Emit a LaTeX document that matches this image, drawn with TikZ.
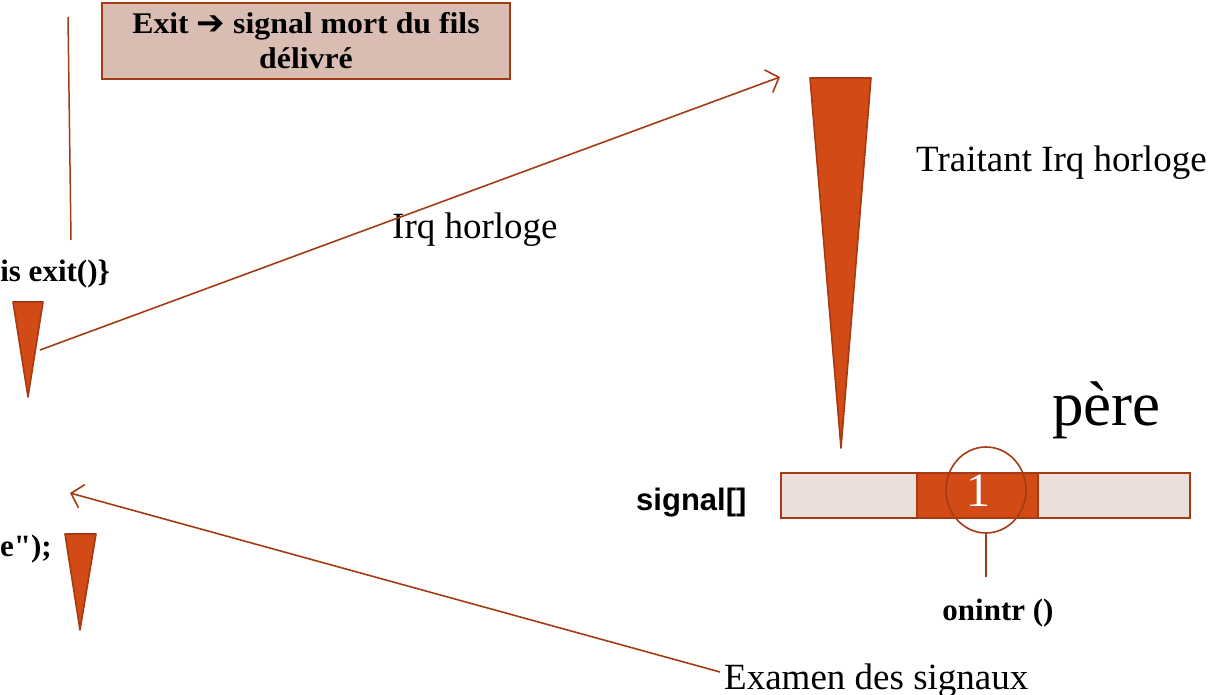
\documentclass[tikz,border=0pt]{standalone}
\usepackage{fontspec}
\setmainfont{Liberation Serif}
\newfontfamily\arialfont{Liberation Sans}
\newfontfamily\symfont{DejaVu Sans}
\newfontfamily\rawserif{Liberation Serif}[Ligatures=TeXOff]
\newfontfamily\boxfont{Liberation Serif}[FakeStretch=1.06]
\usetikzlibrary{arrows.meta,shapes.geometric}
\definecolor{rust}{HTML}{D24A16}
\definecolor{rustedge}{HTML}{A63A12}
\definecolor{boxfill}{HTML}{D9BDB3}
\definecolor{cellfill}{HTML}{EADFDB}
\tikzset{
  wedge/.style={fill=rust, draw=rustedge, line width=1.6pt, line join=round},
  link/.style={draw=rustedge, line width=1.6pt},
  arr/.style={link, -{Straight Barb[length=11pt,width=24pt,line width=1.6pt]}},
  txt/.style={inner sep=0pt, text=black},
  cell/.style={draw=rustedge, line width=1.8pt},
}
\begin{document}
\begin{tikzpicture}[x=1pt,y=-1pt]
\useasboundingbox (0,0) rectangle (1224,695);
\clip (0,0) rectangle (1224,695);

% message box at the top
\node[draw=rustedge, fill=boxfill, line width=2pt, minimum width=408pt, minimum height=76pt,
      anchor=north west, inner sep=0pt, align=center, font=\boxfont\fontsize{30}{35}\selectfont\bfseries]
  (msg) at (101,2) {Exit {\symfont\bfseries\fontsize{34}{34}\selectfont\raisebox{-1pt}{➔}} signal mort du fils\\délivré};

% vertical thread line on the left
\coordinate (vtop) at (68,17);
\coordinate (vbot) at (71,240);
\draw[link, line width=1.5pt] (vtop) -- (vbot);

% code fragments (left, cut by the edge)
\node[txt, anchor=base east, font=\fontsize{31}{31}\selectfont\bfseries] (exitcode) at (110,282) {is exit()\}};
\node[txt, anchor=base east, font=\rawserif\fontsize{31}{31}\selectfont\bfseries] (printcode) at (52,556) {e");};

% execution wedges
\draw[wedge] (13,302) -- (43,302) -- (28,397) -- cycle;
\draw[wedge] (65,534) -- (96,534) -- (80,630) -- cycle;
\draw[wedge] (810,78) -- (871,78) -- (841,448) -- cycle;

% labels
\node[txt, anchor=base west, font=\fontsize{37}{37}\selectfont] (irq) at (392,239) {Irq horloge};
\node[txt, anchor=base west, font=\fontsize{37}{37}\selectfont] (traitant) at (916,172) {Traitant Irq horloge};
\node[txt, anchor=base west, font=\fontsize{63}{63}\selectfont] (pere) at (1052,425) {père};
\node[txt, anchor=base west, font=\fontsize{37}{37}\selectfont] (examen) at (724,689) {Examen des signaux};
\node[txt, anchor=base west, font=\arialfont\fontsize{31}{31}\selectfont\bfseries] (siglabel) at (636,510) {signal[]};

% signal[] array
\node[cell, fill=cellfill, minimum width=136pt, minimum height=45pt, anchor=north west, inner sep=0pt] (c0) at (780,472) {};
\node[cell, fill=rust, minimum width=121pt, minimum height=45pt, anchor=north west, inner sep=0pt] (c1) at (916,472) {};
\node[cell, fill=cellfill, minimum width=152pt, minimum height=45pt, anchor=north west, inner sep=0pt] (c2) at (1037,472) {};
\node[txt, text=white, font=\fontsize{48}{48}\selectfont] (one) at (978,491) {1};

% highlighted entry and its handler
\node[draw=rustedge, line width=1.6pt, ellipse, minimum width=80pt, minimum height=86pt, inner sep=0pt] (ring) at (986,490) {};
\coordinate (handtop) at (986,577);
\draw[link, line width=1.5pt] (ring.south) -- (handtop);
\node[txt, anchor=base, font=\fontsize{31}{31}\selectfont\bfseries] (onintr) at (998,620) {onintr ()};

% interrupt arrows
\coordinate (from1) at (40,350);
\coordinate (to1) at (780,77);
\draw[arr] (from1) -- (to1);
\coordinate (from2) at (720,672);
\coordinate (to2) at (70,493);
\draw[arr] (from2) -- (to2);
\end{tikzpicture}
\end{document}
